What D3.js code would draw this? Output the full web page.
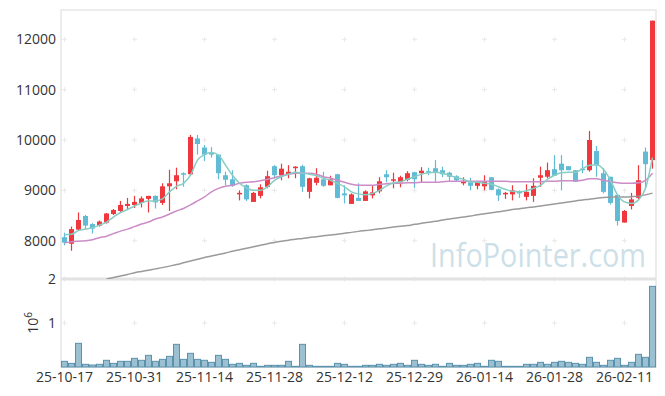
<!DOCTYPE html>
<html>
<head>
<meta charset="utf-8">
<script src="https://cdn.jsdelivr.net/npm/d3@7"></script>
<style>
  body { margin: 0; background: #fff; }
  svg { display: block; font-family: "Open Sans", sans-serif; }
</style>
</head>
<body>
<script>
// trading days shown on the chart
var dates = [
  "2025-10-17","2025-10-20","2025-10-21","2025-10-22","2025-10-23","2025-10-24",
  "2025-10-27","2025-10-28","2025-10-29","2025-10-30","2025-10-31",
  "2025-11-03","2025-11-04","2025-11-05","2025-11-06","2025-11-07",
  "2025-11-10","2025-11-11","2025-11-12","2025-11-13","2025-11-14",
  "2025-11-17","2025-11-18","2025-11-19","2025-11-20","2025-11-21",
  "2025-11-24","2025-11-25","2025-11-26","2025-11-27","2025-11-28",
  "2025-12-01","2025-12-02","2025-12-03","2025-12-04","2025-12-05",
  "2025-12-08","2025-12-09","2025-12-10","2025-12-11","2025-12-12",
  "2025-12-15","2025-12-16","2025-12-17","2025-12-18","2025-12-19",
  "2025-12-22","2025-12-23","2025-12-24","2025-12-26","2025-12-29","2025-12-30",
  "2026-01-02","2026-01-05","2026-01-06","2026-01-07","2026-01-08","2026-01-09",
  "2026-01-12","2026-01-13","2026-01-14","2026-01-15","2026-01-16",
  "2026-01-19","2026-01-20","2026-01-21","2026-01-22","2026-01-23",
  "2026-01-26","2026-01-27","2026-01-28","2026-01-29","2026-01-30",
  "2026-02-02","2026-02-03","2026-02-04","2026-02-05","2026-02-06",
  "2026-02-09","2026-02-10","2026-02-11","2026-02-12","2026-02-13",
  "2026-02-19","2026-02-20"
];

var opens = [8070,7940,8220,8490,8330,8300,8360,8530,8590,8690,8710,8750,8830,8890,8750,9080,9180,9340,9320,10030,
  9850,9750,9710,9300,9220,8920,9100,8770,8890,9070,9480,9300,9320,9450,9480,8970,9150,9220,9100,9320,
  8940,8730,8850,8790,8900,8980,9320,9190,9160,9210,9360,9340,9380,9440,9400,9350,9280,9150,9160,9090,
  9080,9260,9020,8920,8920,8980,8870,8890,9250,9270,9420,9530,9480,9400,9430,9400,9780,9340,9270,8910,
  8360,8690,8850,9770,9600];
var highs = [8160,8280,8560,8510,8350,8400,8550,8630,8790,8850,8890,8880,8890,8900,9140,9410,9450,9360,10100,10100,
  9900,9860,9710,9370,9400,9000,9120,8970,9120,9390,9500,9530,9500,9480,9510,9250,9440,9370,9290,9330,
  9100,8940,9140,9000,9100,9260,9400,9350,9290,9380,9370,9460,9450,9600,9470,9370,9300,9260,9250,9180,
  9300,9260,9040,8970,9100,9000,9120,9240,9470,9550,9700,9700,9480,9400,9600,10180,9880,9440,9270,8910,
  8610,8950,9500,9850,12370];
var lows = [7910,7800,8200,8220,8140,8280,8340,8510,8560,8630,8650,8660,8560,8640,8710,8590,9020,9070,9290,9710,
  9580,9650,9220,9100,9070,8800,8790,8770,8840,9040,9240,9200,9240,9240,8970,8840,9100,9070,9100,8840,
  8740,8730,8790,8790,8840,8940,9160,9040,9060,9180,9050,9160,9300,9170,9260,9170,9170,9100,9000,9020,
  9000,9000,8790,8830,8800,8850,8800,8770,9070,9240,9290,9000,9400,9170,9340,9370,9270,8940,8720,8300,
  8360,8620,8820,9040,9430];
var closes = [7960,8230,8410,8300,8240,8380,8540,8610,8710,8730,8770,8840,8890,8760,9080,9140,9300,9320,10060,9920,
  9710,9710,9340,9210,9090,8950,8820,8950,9060,9280,9300,9430,9370,9470,9070,9240,9250,9090,9220,8850,
  8900,8920,8790,8980,8960,9180,9260,9220,9260,9340,9220,9390,9360,9360,9320,9270,9200,9170,9090,9180,
  9180,9010,8900,8950,9000,8940,8970,9090,9300,9400,9290,9400,9400,9170,9400,10000,9500,8970,8750,8390,
  8590,8820,9200,9520,12370];
var volumes = [129000,83000,538000,61000,45000,61000,152000,83000,129000,129000,197000,152000,265000,129000,174000,242000,515000,174000,311000,174000,
  152000,106000,265000,174000,61000,83000,38000,83000,15000,38000,38000,38000,129000,15000,515000,38000,15000,15000,15000,83000,
  61000,15000,15000,38000,38000,61000,38000,61000,83000,38000,152000,61000,38000,61000,15000,83000,38000,38000,61000,83000,
  15000,152000,129000,15000,15000,15000,61000,61000,106000,61000,106000,129000,106000,83000,61000,220000,106000,38000,152000,197000,
  38000,106000,288000,220000,1833000];

// moving averages as drawn (5, 20 and 60 days)
var ma5 = [8120,8130,8200,8230,8260,8310,8370,8470,8560,8620,8690,8750,8790,8790,8830,8970,9080,9140,9300,9600,
  9710,9750,9700,9500,9300,9140,9050,9000,9000,9070,9200,9270,9320,9360,9340,9320,9290,9240,9200,9140,
  9070,8970,8930,8910,8940,9000,9090,9150,9170,9220,9270,9320,9350,9360,9340,9300,9250,9220,9170,9160,
  9140,9120,9070,9020,8980,8970,8990,9040,9100,9220,9300,9350,9360,9360,9430,9500,9510,9420,9200,8910,
  8770,8740,8810,9040,9650];
var ma20 = [7960,7980,7990,8000,8020,8060,8090,8140,8190,8230,8280,8330,8370,8430,8470,8530,8590,8640,8710,8790,
  8870,8970,9040,9080,9100,9140,9160,9170,9190,9220,9250,9290,9320,9340,9340,9340,9320,9270,9240,9200,
  9160,9120,9100,9100,9100,9120,9130,9140,9140,9150,9150,9160,9160,9160,9170,9180,9180,9180,9180,9180,
  9180,9180,9180,9180,9170,9170,9170,9170,9170,9180,9180,9190,9190,9190,9200,9230,9230,9200,9170,9150,
  9140,9140,9150,9200,9340];
var ma60 = [null,null,null,null,null,null,7240,7270,7300,7330,7365,7390,7415,7440,7465,7495,7525,7560,7595,7630,
  7665,7695,7725,7755,7790,7820,7850,7880,7910,7940,7965,7990,8010,8030,8045,8065,8080,8100,8115,8130,
  8150,8165,8185,8200,8215,8235,8250,8270,8285,8300,8325,8345,8365,8385,8410,8430,8450,8470,8490,8515,
  8535,8555,8575,8595,8620,8635,8655,8670,8690,8710,8730,8750,8770,8790,8810,8825,8845,8860,8865,8870,
  8870,8875,8885,8910,8945];

var priceTicks = [8000, 9000, 10000, 11000, 12000];
var volumeTicks = [1000000, 2000000];
var dateTicks = [0, 10, 20, 30, 40, 50, 60, 70, 80];

var width = 665, height = 396;
var plotL = 61, plotR = 656, plotT = 10, plotMid = 279, plotB = 367;

var svg = d3.select("body").append("svg")
  .attr("width", width)
  .attr("height", height);

var x = d3.scaleBand()
  .domain(d3.range(dates.length))
  .range([plotL, plotR])
  .padding(0);
var cx = function(i){ return x(i) + x.bandwidth() / 2; };

var y = d3.scaleLinear().domain([7239, 12582]).range([plotMid, plotT]);
var yVol = d3.scaleLinear().domain([0, 2000000]).range([plotB, plotMid]);

svg.append("defs").append("clipPath").attr("id", "clipPrice")
  .append("rect").attr("x", plotL).attr("y", plotT).attr("width", plotR - plotL).attr("height", plotMid - plotT);

// watermark
svg.append("text")
  .attr("x", 430).attr("y", 267)
  .attr("textLength", 216).attr("lengthAdjust", "spacingAndGlyphs")
  .style("font-size", "33px")
  .style("fill", "#cddfe8")
  .text("InfoPointer.com");

// frame
svg.append("rect")
  .attr("x", plotL).attr("y", plotT)
  .attr("width", plotR - plotL).attr("height", plotB - plotT)
  .attr("fill", "none").attr("stroke", "#e6e6e6").attr("stroke-width", 1.5);

// little plus marks at grid crossings
var gridY = priceTicks.map(function(v){ return y(v); })
  .concat(volumeTicks.map(function(v){ return yVol(v); }));
var crosses = [];
dateTicks.forEach(function(i){ gridY.forEach(function(gy){ crosses.push([cx(i), gy]); }); });
svg.append("g").selectAll("path")
  .data(crosses).enter().append("path")
  .attr("d", function(d){ return "M" + (d[0] - 2.5) + "," + d[1] + "h5M" + d[0] + "," + (d[1] - 2.5) + "v5"; })
  .attr("stroke", "#e9e9e9").attr("stroke-width", 1);

// divider between panels
svg.append("line")
  .attr("x1", plotL).attr("x2", plotR).attr("y1", plotMid).attr("y2", plotMid)
  .attr("stroke", "#e2e2e2").attr("stroke-width", 3);

// candles
var up = "#ee383e", down = "#62bbd5";
var price = svg.append("g").attr("clip-path", "url(#clipPrice)");
var candles = price.selectAll("g.candle")
  .data(d3.range(dates.length)).enter()
  .append("g").attr("class", "candle");
candles.append("line")
  .attr("x1", cx).attr("x2", cx)
  .attr("y1", function(i){ return y(highs[i]); })
  .attr("y2", function(i){ return y(lows[i]); })
  .attr("stroke", function(i){ return closes[i] >= opens[i] ? up : down; })
  .attr("stroke-width", 1.2);
candles.append("rect")
  .attr("x", function(i){ return cx(i) - 2.5; })
  .attr("width", 5)
  .attr("y", function(i){ return y(Math.max(opens[i], closes[i])); })
  .attr("height", function(i){ return Math.max(1.5, Math.abs(y(opens[i]) - y(closes[i]))); })
  .attr("fill", function(i){ return closes[i] >= opens[i] ? up : down; });

// moving average lines
var maLine = d3.line()
  .defined(function(d){ return d != null; })
  .x(function(d, i){ return cx(i); })
  .y(function(d){ return y(d); })
  .curve(d3.curveMonotoneX);
[[ma60, "#9a9a9a"], [ma20, "#cc8cc8"], [ma5, "#88cdc3"]].forEach(function(s){
  price.append("path")
    .datum(s[0])
    .attr("d", maLine)
    .attr("fill", "none")
    .attr("stroke", s[1])
    .attr("stroke-width", 1.5);
});

// volume bars
svg.append("g").selectAll("rect")
  .data(volumes).enter().append("rect")
  .attr("x", function(d, i){ return x(i) + 0.5; })
  .attr("width", x.bandwidth() - 1)
  .attr("y", function(d){ return yVol(d); })
  .attr("height", function(d){ return plotB - yVol(d); })
  .attr("fill", "#9bc0d1")
  .attr("stroke", "#5a92ad")
  .attr("stroke-width", 1);

// axes
function styleAxis(g){
  g.select(".domain").remove();
  g.selectAll("text").style("font-size", "14px").style("fill", "#333")
    .style("font-family", "'Open Sans', sans-serif");
}
svg.append("g")
  .attr("transform", "translate(" + plotL + ",0)")
  .call(d3.axisLeft(y).tickValues(priceTicks).tickSize(0).tickPadding(5).tickFormat(d3.format("d")))
  .call(styleAxis);
svg.append("g")
  .attr("transform", "translate(" + plotL + ",0)")
  .call(d3.axisLeft(yVol).tickValues(volumeTicks).tickSize(0).tickPadding(5)
    .tickFormat(function(d){ return d / 1000000; }))
  .call(styleAxis);
svg.append("g")
  .attr("transform", "translate(0," + plotB + ")")
  .call(d3.axisBottom(x).tickValues(dateTicks).tickSize(0).tickPadding(5)
    .tickFormat(function(i){ return dates[i].slice(2); }))
  .call(styleAxis);

// volume unit label
var unit = svg.append("text")
  .attr("transform", "translate(38,323) rotate(-90)")
  .attr("text-anchor", "middle")
  .style("font-size", "14px").style("fill", "#333");
unit.append("tspan").text("10");
unit.append("tspan").attr("dy", -6).style("font-size", "10px").text("6");
</script>
</body>
</html>
